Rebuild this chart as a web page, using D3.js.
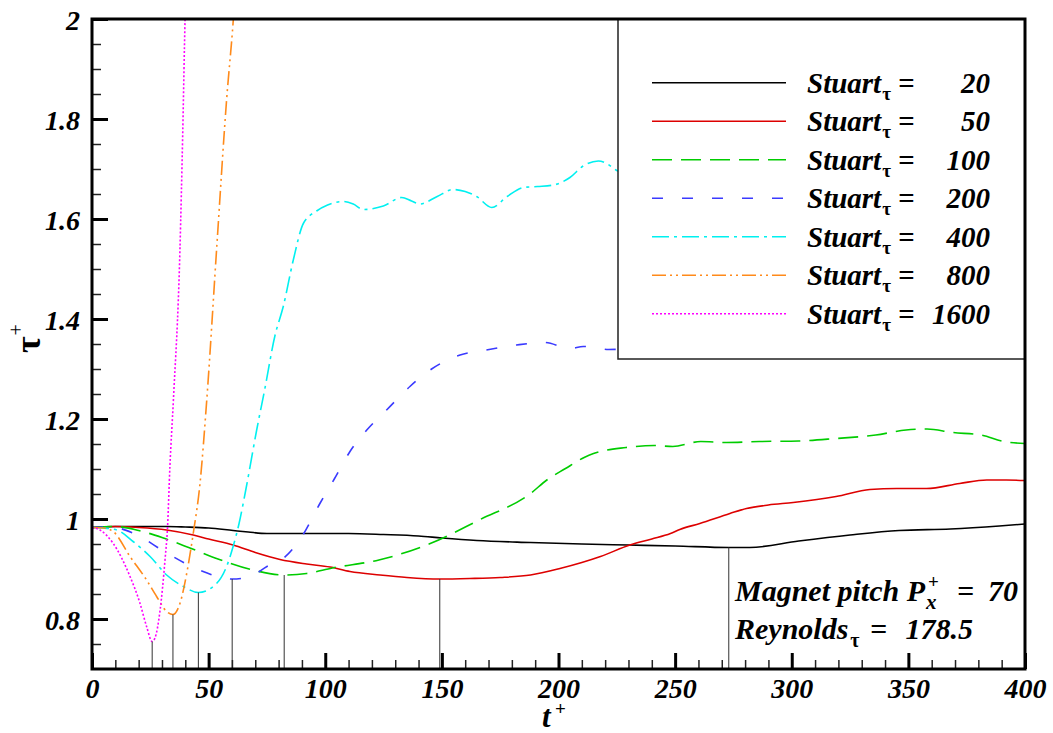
<!DOCTYPE html>
<html><head><meta charset="utf-8">
<script src="https://cdn.jsdelivr.net/npm/d3@7"></script>
<style>
body{margin:0;background:#fff;}
svg{display:block;}
text{font-family:"Liberation Serif","Times New Roman",serif;font-weight:bold;font-style:italic;fill:#000;}
</style></head>
<body>
<svg id="c" width="1053" height="733"></svg>
<script>
// ---- data ----
const stuart = ["20","50","100","200","400","800","1600"];
const t20   = [0,10,32,40,50,60.5,67,75,90,110,125,140,150,165,188,210,230,250,273,282,303,325,346,368,389,400];
const tau20 = [0.983,0.985,0.985,0.984,0.982,0.977,0.974,0.971,0.971,0.971,0.969,0.966,0.962,0.957,0.953,0.950,0.948,0.946,0.943,0.943,0.956,0.968,0.977,0.980,0.986,0.990];
const t50   = [0,10,20,32,43.4,50,60.5,70,80.6,92,102,110.6,123.5,135,149,162,175,188,200.6,210,218,230.6,240,248,252,260.6,273.5,280.6,290,300.6,319,333.5,345,357.8,372,383.6,392,400];
const tau50 = [0.983,0.985,0.983,0.978,0.968,0.960,0.948,0.933,0.919,0.910,0.904,0.895,0.888,0.883,0.880,0.881,0.883,0.888,0.901,0.913,0.925,0.948,0.960,0.971,0.979,0.991,1.011,1.021,1.028,1.033,1.045,1.059,1.061,1.061,1.071,1.078,1.078,1.077];
const t100   = [0,10,20,30,42,54,69,82.4,92,103,123,145,166,188,195,203,211,215,229,241,249,261,272,286,303,319,336,349,358,369,381,391,400];
const tau100 = [0.983,0.985,0.977,0.963,0.942,0.920,0.898,0.888,0.891,0.902,0.918,0.951,0.998,1.051,1.078,1.101,1.123,1.131,1.143,1.147,1.145,1.155,1.153,1.155,1.156,1.161,1.168,1.178,1.180,1.173,1.168,1.155,1.151];
const t200   = [0,8,17.6,32,46,60.1,68,75,82,90,97.7,104,110.6,117.8,126.3,136.3,145.6,157.8,168,182,194,205,210.6,216,221.4,230];
const tau200 = [0.983,0.984,0.972,0.932,0.898,0.880,0.885,0.905,0.921,0.965,1.031,1.081,1.135,1.178,1.218,1.265,1.300,1.328,1.337,1.348,1.353,1.341,1.345,1.343,1.339,1.340];
const t400   = [0,5,10.7,17.6,24.9,32,39.2,45.6,53.4,57.7,60.5,63,66,70.6,74,78.5,82,86.3,90.6,96.3,101,107.7,112,116.3,124.9,132.8,137,140.6,148,154.9,160,164.9,171.4,178,184.9,191,197.8,204.9,210.6,217.1,221,225,230];
const tau400 = [0.983,0.982,0.978,0.955,0.925,0.888,0.865,0.853,0.871,0.905,0.945,0.990,1.060,1.178,1.258,1.368,1.425,1.518,1.591,1.616,1.628,1.635,1.630,1.619,1.626,1.643,1.636,1.630,1.645,1.659,1.655,1.645,1.623,1.645,1.663,1.665,1.668,1.683,1.706,1.716,1.710,1.697,1.690];
const t800   = [0,5,9.1,16.3,23.4,27.7,32,34.7,37.7,40.6,43.4,46.3,49.2,53.5,57.7,60.6,62];
const tau800 = [0.983,0.982,0.975,0.925,0.878,0.845,0.815,0.809,0.831,0.891,0.971,1.071,1.238,1.545,1.838,2.0,2.1];
const t1600   = [0,3.4,9.1,16.3,20.6,23.4,25.8,27,29.2,31.3,32.4,33.4,34.9,37.7,38.9,39.9,40.5];
const tau1600 = [0.983,0.978,0.951,0.885,0.831,0.785,0.755,0.762,0.818,0.918,0.985,1.105,1.238,1.538,1.772,2.0,2.1];
const minT   = [25.8,34.7,45.6,60.1,82.4,149.1,273];
const minTau = [0.755,0.809,0.853,0.880,0.888,0.880,0.943];
const xTicks = [0,50,100,150,200,250,300,350,400];
const xTickLabels = ["0","50","100","150","200","250","300","350","400"];
const yTicks = [0.8,1.0,1.2,1.4,1.6,1.8,2.0];
const yTickLabels = ["0.8","1","1.2","1.4","1.6","1.8","2"];

// ---- chart ----
const svg = d3.select("#c");
const L=92,R=1025,T=19,B=669;
const x = d3.scaleLinear().domain([0,400]).range([L,R]);
const y = d3.scaleLinear().domain([0.7,2]).range([B,T]);

const series = [
  {t:t20, v:tau20, color:"#000000", dash:null},
  {t:t50, v:tau50, color:"#dd0000", dash:null},
  {t:t100, v:tau100, color:"#00cc00", dash:"20,9"},
  {t:t200, v:tau200, color:"#3a3aff", dash:"11,19"},
  {t:t400, v:tau400, color:"#00f0f0", dash:"17,5,3,5"},
  {t:t800, v:tau800, color:"#ff8a1a", dash:"14,4,2,4,2,4"},
  {t:t1600, v:tau1600, color:"#ff00ff", dash:"2,2"}
];

function stext(parent, px, py, str, size, opts={}){
  const t = parent.append("text").attr("x",px).attr("y",py).style("font-size",size+"px").text(str);
  if(opts.anchor) t.attr("text-anchor",opts.anchor);
  if(opts.normal) t.style("font-style","normal");
  return t;
}

svg.append("defs").append("clipPath").attr("id","clip")
  .append("rect").attr("x",L).attr("y",T).attr("width",R-L).attr("height",B-T);

const line = d3.line().x(d=>x(d[0])).y(d=>y(d[1])).curve(d3.curveMonotoneX);
const g = svg.append("g").attr("clip-path","url(#clip)");
series.forEach(s=>{
  g.append("path").attr("d", line(s.t.map((tt,i)=>[tt,s.v[i]])))
   .attr("fill","none").attr("stroke",s.color).attr("stroke-width",1.6)
   .attr("stroke-dasharray",s.dash);
});

// vertical marker lines at minima
svg.append("g").selectAll("line").data(minT.map((tt,i)=>[tt,minTau[i]])).join("line")
  .attr("x1",d=>x(d[0])).attr("x2",d=>x(d[0]))
  .attr("y1",d=>y(d[1])).attr("y2",B)
  .attr("stroke","#333").attr("stroke-width",1);

// axes
const xMinor = d3.range(0,401,10).filter(v=>v%50!==0);
const yMinor = d3.range(0.75,2.0,0.05).map(v=>+v.toFixed(2)).filter(v=>Math.abs(v*5-Math.round(v*5))>1e-6);

const xAx = svg.append("g").attr("transform",`translate(0,${B})`)
  .call(d3.axisBottom(x).tickValues(xTicks).tickSize(-16).tickPadding(9)
        .tickFormat((d,i)=>xTickLabels[i]));
const xAxm = svg.append("g").attr("transform",`translate(0,${B})`)
  .call(d3.axisBottom(x).tickValues(xMinor).tickSize(-9).tickFormat(""));
const yAx = svg.append("g").attr("transform",`translate(${L},0)`)
  .call(d3.axisLeft(y).tickValues(yTicks).tickSize(-16).tickPadding(12)
        .tickFormat((d,i)=>yTickLabels[i]));
const yAxm = svg.append("g").attr("transform",`translate(${L},0)`)
  .call(d3.axisLeft(y).tickValues(yMinor).tickSize(-9).tickFormat(""));
[xAx,xAxm,yAx,yAxm].forEach(a=>{a.select(".domain").remove(); a.attr("font-family",null).attr("font-size",null);});
[xAx,yAx].forEach(a=>{a.selectAll(".tick line").attr("stroke","#000").attr("stroke-width",3);
  a.selectAll(".tick text").style("font-size","28px");});
yAx.selectAll(".tick text").attr("dy","0.36em");
[xAxm,yAxm].forEach(a=>a.selectAll(".tick line").attr("stroke","#222").attr("stroke-width",1.5));

// legend box
svg.append("rect").attr("x",618).attr("y",T).attr("width",R-618).attr("height",359-T)
  .attr("fill","#fff").attr("stroke","#222").attr("stroke-width",1.5);
const lg = svg.append("g");
series.forEach((s,i)=>{
  const yy = 82.7 + i*38.5;
  lg.append("line").attr("x1",652).attr("x2",786).attr("y1",yy).attr("y2",yy)
    .attr("stroke",s.color).attr("stroke-width",1.6).attr("stroke-dasharray",s.dash);
  const st = stext(lg,807,yy+10,"Stuart",29);
  const ws = st.node().getComputedTextLength();
  stext(lg,807+ws+1,yy+17,"τ",19,{normal:true});
  stext(lg,898,yy+10,"=",29);
  stext(lg,990,yy+10,stuart[i],29,{anchor:"end"});
});

// frame
svg.append("rect").attr("x",L).attr("y",T).attr("width",R-L).attr("height",B-T)
  .attr("fill","none").attr("stroke","#000").attr("stroke-width",3);

// annotation
const a1 = stext(svg,735,601,"Magnet pitch P",30);
const w1 = a1.node().getComputedTextLength();
stext(svg,735+w1+3,588,"+",19,{normal:true});
stext(svg,735+w1+1,609,"x",21);
stext(svg,957,601,"=",30);
stext(svg,1018,601,"70",30,{anchor:"end"});
const a2 = stext(svg,735,639,"Reynolds",30);
const w2 = a2.node().getComputedTextLength();
stext(svg,735+w2+2,647,"τ",20,{normal:true});
stext(svg,870,639,"=",30);
stext(svg,973,639,"178.5",30,{anchor:"end"});

// axis titles
stext(svg,542,727,"t",31);
stext(svg,555,715,"+",19,{normal:true});
const yt = svg.append("text").attr("transform","translate(40,353) rotate(-90)").style("font-size","36px");
yt.append("tspan").style("font-style","normal").text("τ");
yt.append("tspan").attr("dx",1).attr("dy",-17).style("font-size","20px").style("font-style","normal").style("font-weight","normal").text("+");
</script>
</body></html>
